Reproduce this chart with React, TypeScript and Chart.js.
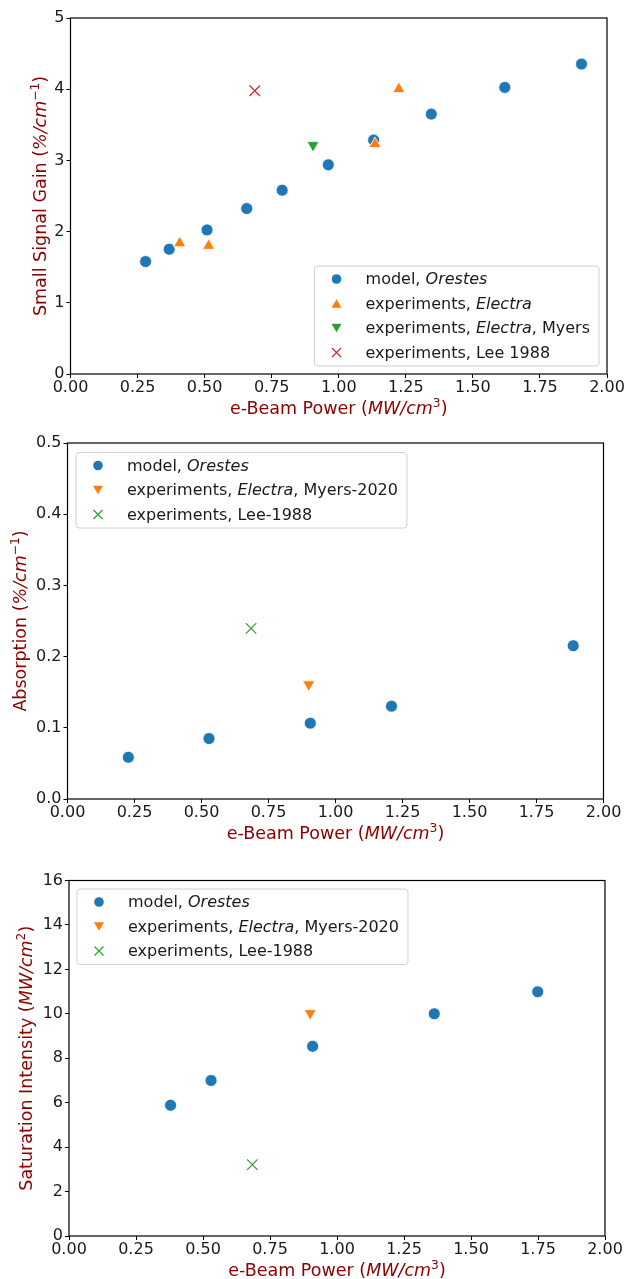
import React, { useEffect, useRef } from 'react';
import { Chart, registerables } from 'chart.js';

Chart.register(...registerables);

const FONT = '"DejaVu Sans", sans-serif';
const BLUE = '#1f77b4';
const ORANGE = '#ff7f0e';
const GREEN = '#2ca02c';
const RED = '#d62728';
const TITLE_COLOR = '#8b0000';
const TEXT_COLOR = '#1a1a1a';

// ---------- shared x axis ----------
const xTickValues = [0, 0.25, 0.5, 0.75, 1, 1.25, 1.5, 1.75, 2];
const xTickLabels = ['0.00', '0.25', '0.50', '0.75', '1.00', '1.25', '1.50', '1.75', '2.00'];

// ---------- chart 1: small signal gain ----------
const gainModelX = [0.28, 0.368, 0.509, 0.657, 0.789, 0.961, 1.13, 1.345, 1.619, 1.905];
const gainModelY = [1.579, 1.753, 2.024, 2.324, 2.582, 2.938, 3.285, 3.65, 4.025, 4.353];
const gainElectraX = [0.407, 0.515, 1.135, 1.224];
const gainElectraY = [1.837, 1.8, 3.229, 4.002];
const gainMyersX = [0.904];
const gainMyersY = [3.215];
const gainLeeX = [0.687];
const gainLeeY = [3.978];
const gainTickValues = [0, 1, 2, 3, 4, 5];
const gainTickLabels = ['0', '1', '2', '3', '4', '5'];

// ---------- chart 2: absorption ----------
const absModelX = [0.227, 0.528, 0.906, 1.209, 1.887];
const absModelY = [0.0586, 0.0849, 0.1065, 0.1304, 0.2153];
const absMyersX = [0.9];
const absMyersY = [0.161];
const absLeeX = [0.685];
const absLeeY = [0.2397];
const absTickValues = [0, 0.1, 0.2, 0.3, 0.4, 0.5];
const absTickLabels = ['0.0', '0.1', '0.2', '0.3', '0.4', '0.5'];

// ---------- chart 3: saturation intensity ----------
const satModelX = [0.379, 0.53, 0.909, 1.363, 1.749];
const satModelY = [5.886, 7.0, 8.54, 10.0, 10.99];
const satMyersX = [0.9];
const satMyersY = [10.03];
const satLeeX = [0.684];
const satLeeY = [3.21];
const satTickValues = [0, 2, 4, 6, 8, 10, 12, 14, 16];
const satTickLabels = ['0', '2', '4', '6', '8', '10', '12', '14', '16'];

type Seg = { t: string; i?: boolean; sup?: boolean };

const xTitle: Seg[] = [{ t: 'e-Beam Power (' }, { t: 'MW/cm', i: true }, { t: '3', sup: true }, { t: ')' }];
const gainTitle: Seg[] = [{ t: 'Small Signal Gain (' }, { t: '%/cm', i: true }, { t: '\u22121', sup: true }, { t: ')' }];
const absTitle: Seg[] = [{ t: 'Absorption (' }, { t: '%/cm', i: true }, { t: '\u22121', sup: true }, { t: ')' }];
const satTitle: Seg[] = [{ t: 'Saturation Intensity (' }, { t: 'MW/cm', i: true }, { t: '2', sup: true }, { t: ')' }];

const lblModel: Seg[] = [{ t: 'model, ' }, { t: 'Orestes', i: true }];
const lblElectra: Seg[] = [{ t: 'experiments, ' }, { t: 'Electra', i: true }];
const lblElectraMyers: Seg[] = [{ t: 'experiments, ' }, { t: 'Electra', i: true }, { t: ', Myers' }];
const lblLee1988: Seg[] = [{ t: 'experiments, Lee 1988' }];
const lblMyers2020: Seg[] = [{ t: 'experiments, ' }, { t: 'Electra', i: true }, { t: ', Myers-2020' }];
const lblLeeDash: Seg[] = [{ t: 'experiments, Lee-1988' }];

function segFont(s: Seg, size: number) {
  const sz = s.sup ? size * 0.7 : size;
  return `${s.i ? 'italic ' : ''}${sz}px ${FONT}`;
}
function richWidth(ctx: CanvasRenderingContext2D, segs: Seg[], size: number) {
  let w = 0;
  for (const s of segs) {
    ctx.font = segFont(s, size);
    w += ctx.measureText(s.t).width;
  }
  return w;
}
function drawRich(ctx: CanvasRenderingContext2D, segs: Seg[], x: number, y: number, size: number, color: string, align: 'left' | 'center') {
  const w = richWidth(ctx, segs, size);
  let cx = align === 'center' ? x - w / 2 : x;
  ctx.fillStyle = color;
  ctx.textBaseline = 'alphabetic';
  ctx.textAlign = 'left';
  for (const s of segs) {
    ctx.font = segFont(s, size);
    ctx.fillText(s.t, cx, s.sup ? y - size * 0.4 : y);
    cx += ctx.measureText(s.t).width;
  }
}

function drawMarker(ctx: CanvasRenderingContext2D, ds: any, x: number, y: number) {
  const style = ds.pointStyle;
  ctx.save();
  if (style === 'circle') {
    ctx.beginPath();
    ctx.arc(x, y, 4.8, 0, Math.PI * 2);
    ctx.fillStyle = ds.backgroundColor;
    ctx.fill();
  } else if (style === 'triangle') {
    const r = 5.8;
    const rot = ((ds.pointRotation || 0) * Math.PI) / 180;
    ctx.beginPath();
    for (let k = 0; k < 3; k++) {
      const a = rot + (k * 2 * Math.PI) / 3;
      const px = x + Math.sin(a) * r;
      const py = y - Math.cos(a) * r + (rot ? -r / 4 : r / 4);
      if (k === 0) ctx.moveTo(px, py);
      else ctx.lineTo(px, py);
    }
    ctx.closePath();
    ctx.fillStyle = ds.backgroundColor;
    ctx.fill();
  } else {
    const h = 4.5;
    ctx.beginPath();
    ctx.moveTo(x - h, y - h);
    ctx.lineTo(x + h, y + h);
    ctx.moveTo(x + h, y - h);
    ctx.lineTo(x - h, y + h);
    ctx.strokeStyle = ds.borderColor;
    ctx.lineWidth = 1.2;
    ctx.stroke();
  }
  ctx.restore();
}

type Cfg = {
  yTitle: Seg[];
  yTitleX: number;
  corner: 'br' | 'tl';
  insetX: number;
  insetY: number;
};

const TITLE_SIZE = 17.5;

function makeDecor(cfg: Cfg) {
  return {
    id: 'decor',
    beforeDatasetsDraw(chart: any) {
      const { ctx } = chart;
      const { left, top, right, bottom } = chart.chartArea;
      ctx.save();
      ctx.strokeStyle = '#000';
      ctx.lineWidth = 1.2;
      ctx.strokeRect(left, top, right - left, bottom - top);
      ctx.restore();
    },
    afterDraw(chart: any) {
      const { ctx } = chart;
      const { left, top, right, bottom } = chart.chartArea;
      ctx.save();
      // x title
      drawRich(ctx, xTitle, (left + right) / 2, bottom + 40, TITLE_SIZE, TITLE_COLOR, 'center');
      // y title
      ctx.save();
      ctx.translate(cfg.yTitleX, (top + bottom) / 2);
      ctx.rotate(-Math.PI / 2);
      drawRich(ctx, cfg.yTitle, 0, 0, TITLE_SIZE, TITLE_COLOR, 'center');
      ctx.restore();

      // legend
      const dsets = chart.data.datasets as any[];
      const fs = 16;
      const widths = dsets.map((d) => richWidth(ctx, d.legendSegs, fs));
      const w = 51 + Math.max(...widths) + 9;
      const padT = 13;
      const rowH = 24.5;
      const h = padT + (dsets.length - 1) * rowH + 13.5;
      const bx = cfg.corner === 'br' ? right - cfg.insetX - w : left + cfg.insetX;
      const by = cfg.corner === 'br' ? bottom - cfg.insetY - h : top + cfg.insetY;
      const rr = 3;
      ctx.beginPath();
      ctx.moveTo(bx + rr, by);
      ctx.lineTo(bx + w - rr, by);
      ctx.arcTo(bx + w, by, bx + w, by + rr, rr);
      ctx.lineTo(bx + w, by + h - rr);
      ctx.arcTo(bx + w, by + h, bx + w - rr, by + h, rr);
      ctx.lineTo(bx + rr, by + h);
      ctx.arcTo(bx, by + h, bx, by + h - rr, rr);
      ctx.lineTo(bx, by + rr);
      ctx.arcTo(bx, by, bx + rr, by, rr);
      ctx.closePath();
      ctx.fillStyle = 'rgba(255,255,255,0.8)';
      ctx.fill();
      ctx.strokeStyle = '#d0d0d0';
      ctx.lineWidth = 1;
      ctx.stroke();
      dsets.forEach((d, i) => {
        const cy = by + padT + i * rowH;
        drawMarker(ctx, d, bx + 22, cy);
        drawRich(ctx, d.legendSegs, bx + 51, cy + 5, fs, TEXT_COLOR, 'left');
      });
      ctx.restore();
    },
  };
}

function pts(xs: number[], ys: number[]) {
  return xs.map((x, i) => ({ x, y: ys[i] }));
}

function circleDs(xs: number[], ys: number[], segs: Seg[], order: number) {
  return {
    data: pts(xs, ys),
    legendSegs: segs,
    pointStyle: 'circle',
    pointRadius: 6,
    backgroundColor: BLUE,
    borderColor: '#ffffff',
    borderWidth: 0.8,
    order,
  };
}
function triDs(xs: number[], ys: number[], color: string, down: boolean, segs: Seg[], order: number) {
  return {
    data: pts(xs, ys),
    legendSegs: segs,
    pointStyle: 'triangle',
    pointRotation: down ? 180 : 0,
    pointRadius: 7,
    backgroundColor: color,
    borderColor: '#ffffff',
    borderWidth: 0.8,
    order,
  };
}
function crossDs(xs: number[], ys: number[], color: string, segs: Seg[], order: number) {
  return {
    data: pts(xs, ys),
    legendSegs: segs,
    pointStyle: 'crossRot',
    pointRadius: 7.4,
    backgroundColor: color,
    borderColor: color,
    borderWidth: 1.2,
    order,
  };
}

type Box = { height: number; left: number; right: number; top: number; bottom: number };

function buildConfig(datasets: any[], yVals: number[], yLabels: string[], box: Box, cfg: Cfg) {
  const W = 627;
  return {
    type: 'scatter',
    data: { datasets },
    plugins: [makeDecor(cfg)],
    options: {
      responsive: false,
      animation: false,
      devicePixelRatio: 1,
      events: [],
      layout: { padding: { left: 0, top: box.top, right: W - box.right, bottom: 0 } },
      plugins: { legend: { display: false }, tooltip: { enabled: false } },
      scales: {
        x: {
          type: 'linear',
          min: 0,
          max: 2,
          afterBuildTicks: (s: any) => {
            s.ticks = xTickValues.map((v) => ({ value: v }));
          },
          afterFit: (s: any) => {
            s.height = box.height - box.bottom;
            s.paddingLeft = 0;
            s.paddingRight = 0;
          },
          ticks: {
            autoSkip: false,
            maxRotation: 0,
            padding: 0,
            color: TEXT_COLOR,
            font: { family: FONT, size: 16 },
            callback: (_v: any, i: number) => xTickLabels[i],
          },
          grid: { display: true, drawOnChartArea: false, drawTicks: true, tickLength: 4, color: '#000', lineWidth: 1 },
          border: { display: false },
        },
        y: {
          type: 'linear',
          min: yVals[0],
          max: yVals[yVals.length - 1],
          afterBuildTicks: (s: any) => {
            s.ticks = yVals.map((v) => ({ value: v }));
          },
          afterFit: (s: any) => {
            s.width = box.left;
            s.paddingTop = 0;
            s.paddingBottom = 0;
          },
          ticks: {
            autoSkip: false,
            padding: 2,
            color: TEXT_COLOR,
            font: { family: FONT, size: 16 },
            callback: (_v: any, i: number) => yLabels[i],
          },
          grid: { display: true, drawOnChartArea: false, drawTicks: true, tickLength: 4, color: '#000', lineWidth: 1 },
          border: { display: false },
        },
      },
    },
  };
}

function ChartPanel({ config, height }: { config: any; height: number }) {
  const ref = useRef<HTMLCanvasElement | null>(null);
  useEffect(() => {
    if (!ref.current) return;
    const chart = new Chart(ref.current, config);
    return () => chart.destroy();
  }, [config]);
  return (
    <div style={{ width: 627, height }}>
      <canvas ref={ref} width={627} height={height} style={{ display: 'block', width: 627, height }} />
    </div>
  );
}

const gainConfig = buildConfig(
  [
    circleDs(gainModelX, gainModelY, lblModel, 4),
    triDs(gainElectraX, gainElectraY, ORANGE, false, lblElectra, 3),
    triDs(gainMyersX, gainMyersY, GREEN, true, lblElectraMyers, 2),
    crossDs(gainLeeX, gainLeeY, RED, lblLee1988, 1),
  ],
  gainTickValues,
  gainTickLabels,
  { height: 425, left: 70.5, right: 607, top: 18, bottom: 374 },
  { yTitle: gainTitle, yTitleX: 45.5, corner: 'br', insetX: 8, insetY: 8 }
);

const absConfig = buildConfig(
  [
    circleDs(absModelX, absModelY, lblModel, 3),
    triDs(absMyersX, absMyersY, ORANGE, true, lblMyers2020, 2),
    crossDs(absLeeX, absLeeY, GREEN, lblLeeDash, 1),
  ],
  absTickValues,
  absTickLabels,
  { height: 425, left: 67.5, right: 603.5, top: 18, bottom: 374 },
  { yTitle: absTitle, yTitleX: 25.5, corner: 'tl', insetX: 8.5, insetY: 9.5 }
);

const satConfig = buildConfig(
  [
    circleDs(satModelX, satModelY, lblModel, 3),
    triDs(satMyersX, satMyersY, ORANGE, true, lblMyers2020, 2),
    crossDs(satLeeX, satLeeY, GREEN, lblLeeDash, 1),
  ],
  satTickValues,
  satTickLabels,
  { height: 429, left: 69, right: 605, top: 30.5, bottom: 386 },
  { yTitle: satTitle, yTitleX: 31.5, corner: 'tl', insetX: 8, insetY: 8.5 }
);

export default function App() {
  return (
    <div style={{ position: 'absolute', left: 0, top: 0, width: 627, height: 1279, background: '#fff' }}>
      <ChartPanel config={gainConfig} height={425} />
      <ChartPanel config={absConfig} height={425} />
      <ChartPanel config={satConfig} height={429} />
    </div>
  );
}
